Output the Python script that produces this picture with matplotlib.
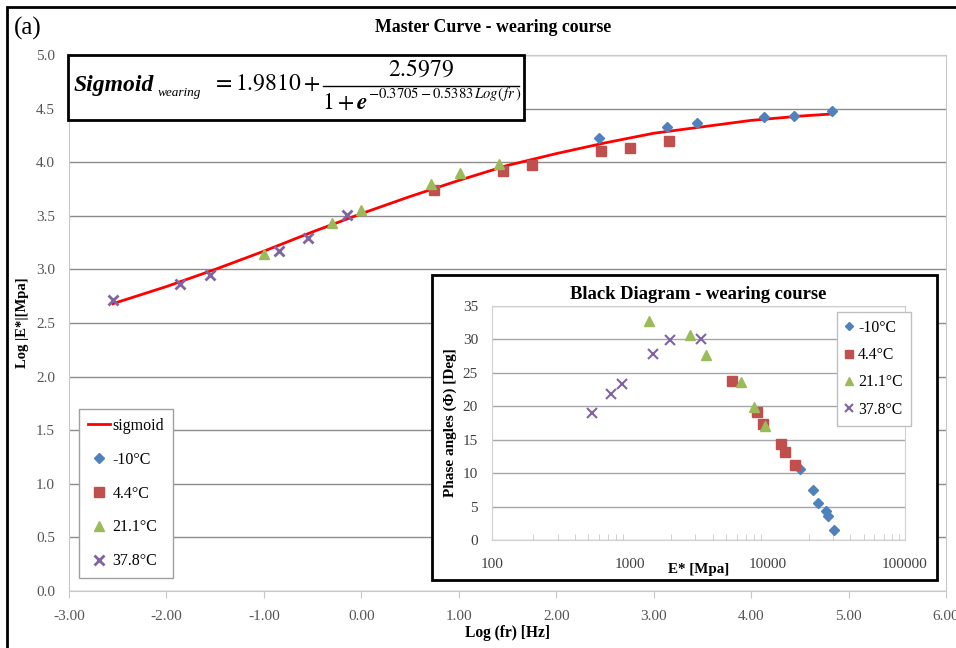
import matplotlib.pyplot as plt
from matplotlib.patches import Rectangle
from matplotlib.lines import Line2D

plt.rcParams['font.family'] = 'Liberation Serif'
plt.rcParams['mathtext.fontset'] = 'stix'

# master curve data, log(fr) vs log|E*|
x_m10 = [2.44, 3.14, 3.44, 4.13, 4.44, 4.83]
y_m10 = [4.23, 4.33, 4.37, 4.42, 4.43, 4.48]
x_44 = [0.75, 1.45, 1.75, 2.46, 2.76, 3.16]
y_44 = [3.74, 3.92, 3.97, 4.10, 4.13, 4.20]
x_211 = [-1.00, -0.30, 0.00, 0.71, 1.01, 1.41]
y_211 = [3.14, 3.43, 3.55, 3.80, 3.90, 3.98]
x_378 = [-2.55, -1.86, -1.55, -0.85, -0.55, -0.15]
y_378 = [2.71, 2.86, 2.95, 3.17, 3.29, 3.51]

# sigmoid curve
x_sig = [-2.55, -2.0, -1.5, -1.0, -0.5, 0.0, 0.5, 1.0, 1.5, 2.0, 2.5, 3.0, 3.5, 4.0, 4.5, 4.83]
y_sig = [2.68, 2.84, 3.00, 3.17, 3.35, 3.52, 3.68, 3.83, 3.97, 4.08, 4.18, 4.27, 4.33, 4.39, 4.43, 4.45]

# black diagram data, E* vs phase angle
e_m10 = [17240, 21400, 23290, 26480, 27390, 30450]
p_m10 = [10.6, 7.5, 5.5, 4.4, 3.6, 1.5]
e_44 = [5580, 8440, 9230, 12540, 13550, 15770]
p_44 = [23.8, 19.1, 17.4, 14.4, 13.1, 11.2]
e_211 = [1380, 2750, 3590, 6420, 7940, 9650]
p_211 = [32.7, 30.7, 27.7, 23.7, 19.9, 17.0]
e_378 = [530, 737, 886, 1480, 1956, 3270]
p_378 = [19.0, 21.8, 23.3, 27.8, 29.9, 30.1]

labels = ['-10°C', '4.4°C', '21.1°C', '37.8°C']
colors = ['#4F81BD', '#C0504D', '#9BBB59', '#8064A2']
markers = ['D', 's', '^', 'x']
msizes = [5, 7, 7, 7]

W, H = 956, 648
fig = plt.figure(figsize=(W / 100, H / 100), dpi=100)


def fx(px):
    return px / W


def fy(py):
    return 1 - py / H


# outer frame (left/top visible)
fig.patches.append(Rectangle((fx(7), fy(700)), fx(1000), fy(7) - fy(700), transform=fig.transFigure,
                             fill=False, edgecolor='black', lw=2, zorder=0.5))

ax = fig.add_axes([fx(69), fy(591), fx(946) - fx(69), fy(55) - fy(591)])
ax.set_zorder(0)
ax.set_xlim(-3, 6)
ax.set_ylim(0, 5)
ax.set_xticks(range(-3, 7))
ax.set_xticklabels(['%.2f' % v for v in range(-3, 7)])
ax.set_yticks([i * 0.5 for i in range(11)])
ax.set_yticklabels(['%.1f' % (i * 0.5) for i in range(11)])
ax.grid(axis='y', color='#8c8c8c', lw=1)
ax.set_axisbelow(True)
for s in ax.spines.values():
    s.set_color('#c8c8c8')
ax.tick_params(axis='x', colors='#c8c8c8', length=5, labelcolor='#555555', labelsize=11, pad=9)
ax.tick_params(axis='y', length=0, labelcolor='#555555', labelsize=11, pad=10)

line, = ax.plot(x_sig, y_sig, color='#FF0000', lw=2, label='sigmoid', zorder=3)
xs = [x_m10, x_44, x_211, x_378]
ys = [y_m10, y_44, y_211, y_378]
handles = [line]
for i in range(4):
    h, = ax.plot(xs[i], ys[i], ls='none', marker=markers[i], color=colors[i], ms=msizes[i],
                 mew=2 if markers[i] == 'x' else 1, mec=colors[i], label=labels[i], zorder=4)
    handles.append(h)

ax.set_xlabel('Log (fr) [Hz]', fontweight='bold', fontsize=11.2, labelpad=1)
ax.set_ylabel('Log |E*|[Mpa]', fontweight='bold', fontsize=10.5, labelpad=5)

leg = ax.legend(handles=handles, loc='upper left', bbox_to_anchor=(fx(79), fy(409)),
                bbox_transform=fig.transFigure, borderaxespad=0, fancybox=False,
                edgecolor='#a0a0a0', framealpha=1, fontsize=11.5, labelspacing=1.12,
                handlelength=1.4, handletextpad=0.15, borderpad=0.55)
leg.get_frame().set_linewidth(1)

fig.text(fx(14), fy(28), '(a)', fontsize=18, va='center', ha='left')
fig.text(fx(493), fy(28), 'Master Curve - wearing course', fontsize=12.8, fontweight='bold',
         ha='center', va='center')

# equation box
fig.patches.append(Rectangle((fx(68), fy(120)), fx(524) - fx(68), fy(55) - fy(120),
                             transform=fig.transFigure, facecolor='white', edgecolor='black',
                             lw=2, zorder=1))
fig.text(fx(74), fy(85), 'Sigmoid', fontsize=17, fontweight='bold', fontstyle='italic',
         ha='left', va='center', zorder=1.5)
fig.text(fx(158), fy(93), 'wearing', fontsize=9.5, fontstyle='italic', ha='left', va='center',
         zorder=1.5)
fig.text(fx(212), fy(84), r'$= 1.9810 +$', fontsize=17, ha='left', va='center', zorder=1.5)
fig.text(fx(421), fy(70), r'$2.5979$', fontsize=17, ha='center', va='center', zorder=1.5)
fig.lines.append(Line2D([fx(323), fx(519)], [fy(86), fy(86)], transform=fig.transFigure,
                        color='black', lw=1, zorder=1.5))
fig.text(fx(322), fy(104), r'$1+\boldsymbol{e}$', fontsize=17, ha='left', va='center', zorder=1.5)
fig.text(fx(368), fy(94), r'$-0.3705-0.5383\,\mathit{Log}(\,\mathit{fr}\,)$', fontsize=10.5,
         ha='left', va='center', zorder=1.5)

# inset frame
fig.patches.append(Rectangle((fx(432), fy(580)), fx(937) - fx(432), fy(275) - fy(580),
                             transform=fig.transFigure, facecolor='white', edgecolor='black',
                             lw=2, zorder=1))

ax2 = fig.add_axes([fx(492), fy(540), fx(905) - fx(492), fy(306) - fy(540)])
ax2.set_zorder(2)
ax2.set_xscale('log')
ax2.set_xlim(100, 100000)
ax2.set_ylim(0, 35)
ax2.set_yticks(range(0, 36, 5))
ax2.set_xticks([100, 1000, 10000, 100000])
ax2.set_xticklabels(['100', '1000', '10000', '100000'])
ax2.grid(axis='y', color='#a6a6a6', lw=1)
ax2.set_axisbelow(True)
for s in ax2.spines.values():
    s.set_color('#d0d0d0')
ax2.tick_params(axis='x', which='major', length=0, labelsize=11, labelcolor='#404040', pad=13)
ax2.tick_params(axis='x', which='minor', direction='in', length=4, color='#c8c8c8')
ax2.tick_params(axis='y', length=0, labelsize=11, labelcolor='#404040', pad=10)

es = [e_m10, e_44, e_211, e_378]
ps = [p_m10, p_44, p_211, p_378]
for i in range(4):
    ax2.plot(es[i], ps[i], ls='none', marker=markers[i], color=colors[i], ms=msizes[i],
             mew=1.5 if markers[i] == 'x' else 1, mec=colors[i], label=labels[i])

ax2.set_xlabel('E* [Mpa]', fontweight='bold', fontsize=10.8, labelpad=-6)
ax2.set_ylabel('Phase angles (\u03a6) [Deg]', fontweight='bold', fontsize=11, labelpad=4)
ax2.set_title('Black Diagram - wearing course', fontweight='bold', fontsize=13.4, pad=5)

leg2 = ax2.legend(loc='upper left', bbox_to_anchor=(fx(837), fy(312)), bbox_transform=fig.transFigure,
                  borderaxespad=0, fancybox=False, edgecolor='#c0c0c0', framealpha=1,
                  fontsize=11.3, labelspacing=0.72, handlelength=0.5, handletextpad=0.35,
                  borderpad=0.5, markerscale=0.8)

fig.savefig('out.png', dpi=100)
